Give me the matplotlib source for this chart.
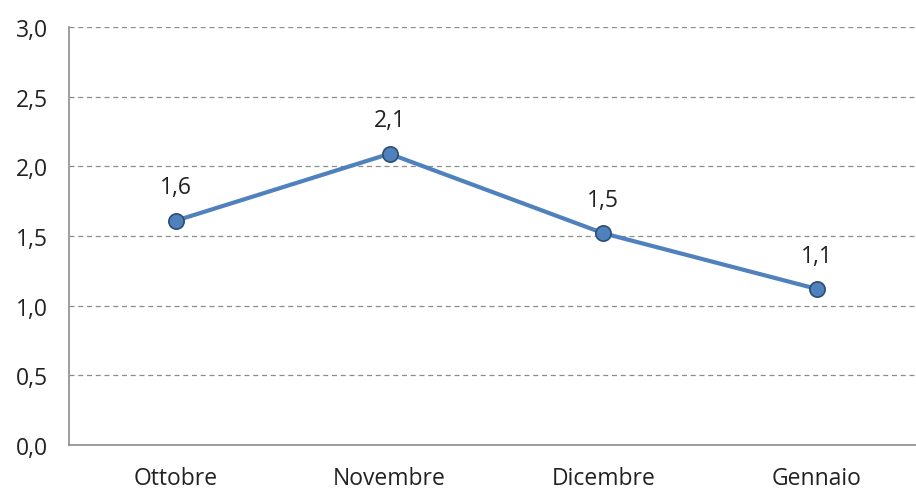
import matplotlib
matplotlib.use("Agg")
import matplotlib.pyplot as plt

categories = ["Ottobre", "Novembre", "Dicembre", "Gennaio"]
values = [1.61, 2.09, 1.52, 1.12]
yticks = [0.0, 0.5, 1.0, 1.5, 2.0, 2.5, 3.0]

plt.rcParams['font.family'] = ['Open Sans', 'DejaVu Sans']
FS = 16.5
TC = "#222222"

fig = plt.figure(figsize=(9.16, 4.89), dpi=100)
ax = fig.add_axes([69/916, 43/489, 854.8/916, 418/489])

x = list(range(len(categories)))
ax.plot(x, values, color="#4F81BD", lw=3, marker="o", markersize=11,
        markerfacecolor="#4F81BD", markeredgecolor="#2C4D75", markeredgewidth=1.2, zorder=3)
for xi, v in zip(x, values):
    ax.annotate(f"{v:.1f}".replace(".", ","), (xi, v), xytext=(0, 24),
                textcoords="offset points", ha="center", va="center",
                fontsize=FS, color=TC)

ax.set_xlim(-0.5, 3.5)
ax.set_ylim(0, 3.0)
ax.set_yticks(yticks)
ax.set_yticklabels([f"{t:.1f}".replace(".", ",") for t in yticks], fontsize=FS, color=TC)
ax.set_xticks(x)
ax.set_xticklabels(categories, fontsize=FS, color=TC)
ax.tick_params(length=0)
ax.tick_params(axis="x", pad=15)
ax.tick_params(axis="y", pad=15)

ax.yaxis.grid(True, linestyle=(0, (4, 3)), color="#8C8C8C", lw=0.9)
ax.set_axisbelow(True)
for s in ["top", "right"]:
    ax.spines[s].set_visible(False)
for s in ["left", "bottom"]:
    ax.spines[s].set_color("#8C8C8C")
    ax.spines[s].set_linewidth(1.2)

fig.savefig("out.png", dpi=100)
